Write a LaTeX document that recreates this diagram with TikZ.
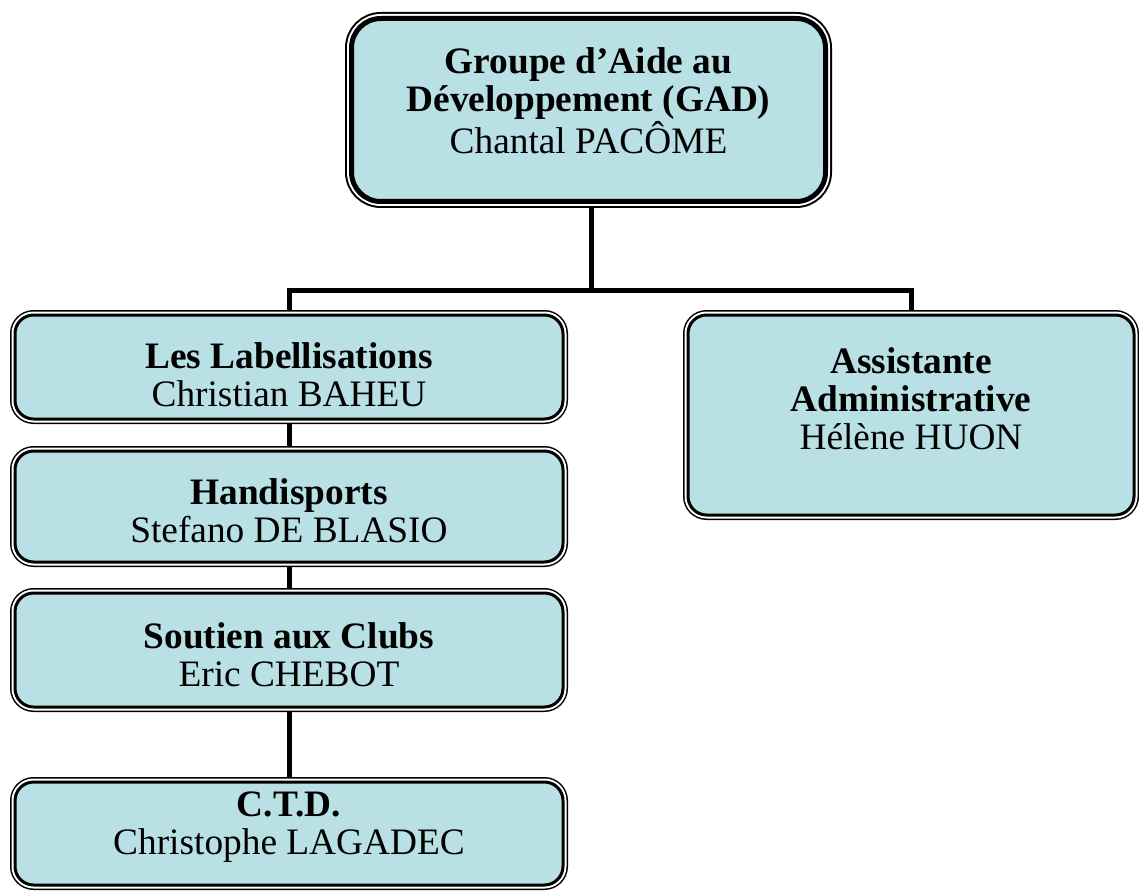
\documentclass[tikz,border=0pt]{standalone}
\usepackage{fontspec}
\setmainfont{Liberation Serif}
\usepackage{tikz}
\usetikzlibrary{positioning,backgrounds}
\definecolor{gadblue}{RGB}{185,224,228}

\begin{document}
\begin{tikzpicture}
      [x=0.75pt, y=-0.75pt,
      box style/.style={rectangle, rounded corners=14pt, align=center, fill=gadblue,
        draw=black, line width=2.25pt, inner sep=0pt,
        font=\fontsize{28}{28.5}\selectfont,
        preaction={draw=black, line width=7.5pt},
        preaction={draw=white, line width=5.25pt}},
      head style/.style={box style, rounded corners=22pt, line width=3.75pt,
        preaction={draw=black, line width=9.75pt},
        preaction={draw=white, line width=6.75pt}},
      link style/.style={draw, line width=3.75pt},
      ]
      \useasboundingbox (0,0) rectangle (1139,895);

      % top of the chart
      \node[head style, minimum width=355.5pt, minimum height=137.25pt, text depth=14pt] (gad) at (588.5,110)
        {\textbf{Groupe d'Aide au}\\ \textbf{Développement (GAD)}\\ Chantal PACÔME};

      % left column
      \node[box style, minimum width=411pt, minimum height=78pt, text height=59pt] (label) at (289,367)
        {\textbf{Les Labellisations}\\ Christian BAHEU};
      \node[box style, minimum width=411pt, minimum height=83.25pt, text height=55pt] (handi) at (289,506.5)
        {\textbf{Handisports}\\ Stefano DE BLASIO};
      \node[box style, minimum width=411pt, minimum height=85.5pt, text height=55pt] (clubs) at (289,650)
        {\textbf{Soutien aux Clubs}\\ Eric CHEBOT};
      \node[box style, minimum width=411pt, minimum height=77.25pt, text depth=16pt] (ctd) at (289,833.5)
        {\textbf{C.T.D.}\\ Christophe LAGADEC};

      % right column
      \node[box style, minimum width=334.5pt, minimum height=150pt, text depth=25pt] (assist) at (911,415)
        {\textbf{Assistante}\\ \textbf{Administrative}\\ Hélène HUON};

      \coordinate (bus) at (591,290);

      \begin{scope}[on background layer]
        \draw[link style] (bus |- gad.south) -- (bus);
        \draw[link style] (label.north) |- (bus) -| (assist.north);
        \draw[link style] (label) -- (handi);
        \draw[link style] (handi) -- (clubs);
        \draw[link style] (clubs) -- (ctd);
      \end{scope}
\end{tikzpicture}
\end{document}
